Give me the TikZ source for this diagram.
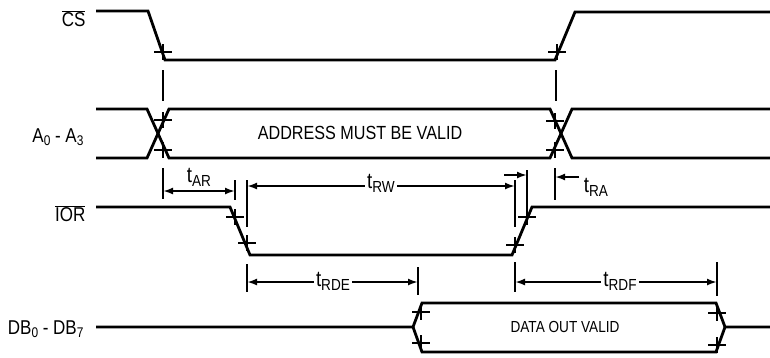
\documentclass[tikz,border=0pt]{standalone}
\usepackage{fontspec}
\setmainfont{Liberation Sans}[FakeStretch=0.85]
\usetikzlibrary{arrows.meta, calc}

% subscripts for signal names and timing labels
\newcommand{\ssub}[1]{{\fontsize{14}{14}\selectfont\raisebox{-3pt}{#1}}}
\newcommand{\tsub}[1]{t{\fontsize{16}{16}\selectfont\raisebox{-4pt}{#1}}}
% crossing mark on an edge
\newcommand{\tmark}[2]{\draw[tickmark] (#1-9,#2) -- (#1+9,#2) (#1,#2-8) -- (#1,#2+8);}

\begin{document}
\begin{tikzpicture}[x=1pt, y=-1pt,
    sig/.style={line width=2.8pt},
    tickmark/.style={line width=2.4pt},
    ext/.style={line width=2.2pt},
    dim/.style={line width=2pt, {Latex[length=10pt,width=7pt]}-{Latex[length=10pt,width=7pt]}},
    sigarrow/.style={line width=2pt, -{Latex[length=10pt,width=7pt]}},
    sigtext/.style={anchor=east, font=\fontsize{20}{22}\selectfont},
    tlabel/.style={fill=white, inner sep=2pt, font=\fontsize{22}{24}\selectfont}]

    \useasboundingbox (0,0) rectangle (770,357);

    % CS
    \draw[sig] (96,11) -- (148,11) -- (165,60) -- (555,60) -- (575,12) -- (770,12);
    \node[sigtext] (cs) at (89,19) {$\overline{\mbox{CS}}$};
    \tmark{163}{52}
    \tmark{557}{52}

    % A0 - A3
    \draw[sig] (96,109) -- (147,109) -- (169,158) -- (550,158) -- (572,109) -- (770,109);
    \draw[sig] (96,158) -- (147,158) -- (169,109) -- (550,109) -- (572,158) -- (770,158);
    \node[sigtext] (addr) at (87,137) {A\ssub{0} - A\ssub{3}};
    \node[font=\fontsize{19}{20}\selectfont] (valid) at (360,133) {ADDRESS MUST BE VALID};
    \tmark{163}{120}
    \tmark{163}{150}
    \tmark{555}{121}
    \tmark{555}{150}

    % IOR
    \draw[sig] (96,207) -- (230,207) -- (250,255) -- (512,255) -- (532,207) -- (770,207);
    \node[sigtext] (ior) at (89,214) {$\overline{\mbox{IOR}}$};
    \tmark{235}{217}
    \tmark{247}{243}
    \tmark{515}{245}
    \tmark{527}{217}

    % DB0 - DB7
    \draw[sig] (96,327) -- (413,327) -- (422,303) -- (716,303) -- (725,327) -- (770,327);
    \draw[sig] (413,327) -- (422,352) -- (716,352) -- (725,327);
    \node[sigtext] (db) at (87,329) {DB\ssub{0} - DB\ssub{7}};
    \node[font=\fontsize{16}{18}\selectfont] (dout) at (565,327) {DATA OUT VALID};
    \tmark{421}{312}
    \tmark{421}{343}
    \tmark{717}{313}
    \tmark{717}{345}

    % extension lines
    \draw[ext] (163,70) -- (163,101) (163,168) -- (163,199);
    \draw[ext] (556,70) -- (556,101) (555,168) -- (555,200);
    \draw[ext] (235,180) -- (235,200);
    \draw[ext] (247,180) -- (247,227) (247,264) -- (247,292);
    \draw[ext] (515,180) -- (515,227) (515,262) -- (515,292);
    \draw[ext] (527,170) -- (527,210);
    \draw[ext] (418,267) -- (418,295);
    \draw[ext] (717,262) -- (717,296);

    % timing arrows
    \coordinate (ar1) at (163,191);
    \coordinate (ar2) at (235,191);
    \draw[dim] (ar1) -- (ar2);
    \node[font=\fontsize{22}{24}\selectfont] (tar) at (199,177) {\tsub{AR}};

    \coordinate (rw1) at (247,186);
    \coordinate (rw2) at (515,186);
    \draw[dim] (rw1) -- (rw2);
    \node[tlabel] (trw) at (381,183) {\tsub{RW}};

    \coordinate (ra1) at (504,175);
    \coordinate (ra2) at (527,175);
    \coordinate (ra3) at (579,177);
    \coordinate (ra4) at (555,177);
    \draw[sigarrow] (ra1) -- (ra2);
    \draw[sigarrow] (ra3) -- (ra4);
    \node[font=\fontsize{22}{24}\selectfont] (tra) at (596,187) {\tsub{RA}};

    \coordinate (rde1) at (247,282);
    \coordinate (rde2) at (418,282);
    \draw[dim] (rde1) -- (rde2);
    \node[tlabel] (trde) at (333,281) {\tsub{RDE}};

    \coordinate (rdf1) at (515,282);
    \coordinate (rdf2) at (717,282);
    \draw[dim] (rdf1) -- (rdf2);
    \node[tlabel] (trdf) at (620,281) {\tsub{RDF}};
\end{tikzpicture}
\end{document}
